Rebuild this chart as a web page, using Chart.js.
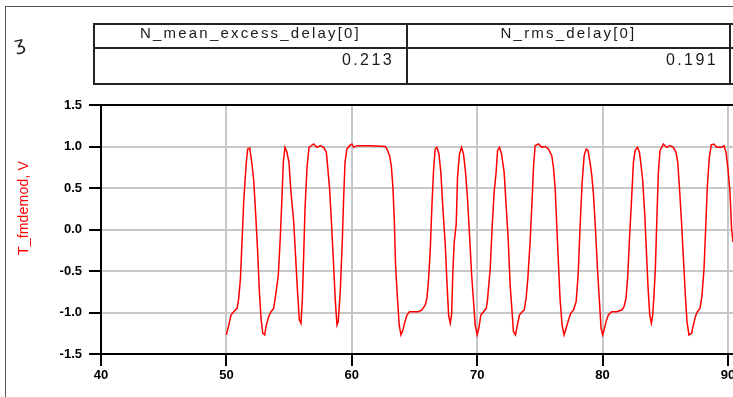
<!DOCTYPE html>
<html>
<head>
<meta charset="utf-8">
<script src="https://cdn.jsdelivr.net/npm/chart.js@4.4.0/dist/chart.umd.min.js"></script>
<style>
html,body{margin:0;padding:0;background:#fff;overflow:hidden}
#wrap{position:relative;width:733px;height:397px;overflow:hidden}
#c{position:absolute;left:0;top:0}
.frame{position:absolute;left:5px;top:6px;width:800px;height:500px;border-left:1px solid #555;border-top:1px solid #555}
.sym{position:absolute;left:14px;top:32px;font:19px "DejaVu Sans";color:#222;transform:rotate(-12deg)}
.tbl{position:absolute;left:93px;top:23px;width:640px;height:62px;box-sizing:border-box;border:2px solid #222;border-right:none}
.hline{position:absolute;left:93px;top:47px;width:640px;height:2px;background:#222}
.vline{position:absolute;top:23px;width:2px;height:62px;background:#222}
.hdr{position:absolute;top:24px;height:17px;line-height:17px;font:15px "Liberation Sans";letter-spacing:2.2px;color:#1a1a1a;text-align:center;white-space:nowrap}
.val{position:absolute;top:51px;height:18px;line-height:18px;font:16px "Liberation Sans";letter-spacing:2.4px;color:#1a1a1a;text-align:right;white-space:nowrap}
.ytitle{position:absolute;left:23px;top:208px;transform:translate(-50%,-50%) rotate(-90deg);font:14px "Liberation Sans";letter-spacing:0.2px;color:#ff0000;white-space:nowrap}
</style>
</head>
<body>
<div id="wrap">
  <canvas id="c" width="733" height="397"></canvas>
  <div class="frame"></div>
  <div class="sym">ʒ</div>
  <div class="tbl"></div>
  <div class="hline"></div>
  <div class="vline" style="left:406px"></div>
  <div class="vline" style="left:729px"></div>
  <div class="hdr" id="h1" style="left:95px;width:311px"></div>
  <div class="hdr" id="h2" style="left:408px;width:321px"></div>
  <div class="val" id="v1" style="left:95px;width:299px"></div>
  <div class="val" id="v2" style="left:408px;width:310px"></div>
  <div class="ytitle" id="yt"></div>
</div>
<script>
// ---- data ----
const tableHeaders = ["N_mean_excess_delay[0]", "N_rms_delay[0]"];
const tableValues = ["0.213", "0.191"];
const yAxisTitle = "T_fmdemod, V";
const xTickValues = [40, 50, 60, 70, 80, 90];
const yTickValues = [-1.5, -1.0, -0.5, 0.0, 0.5, 1.0, 1.5];

const timeX = [
50.00,50.19,50.37,50.58,50.85,50.98,51.12,51.25,51.38,51.49,51.59,51.70,51.86,52.02,52.18,52.34,52.50,52.63,52.76,52.90,
53.05,53.19,53.37,53.56,53.77,53.93,54.14,54.30,54.44,54.54,54.67,54.83,54.99,55.15,55.37,55.52,55.68,55.82,55.95,56.06,
56.16,56.27,56.43,56.59,56.96,57.22,57.49,57.76,57.97,58.07,58.23,58.39,58.55,58.69,58.82,58.92,59.08,59.24,59.35,59.46,
59.61,59.83,60.01,60.15,60.41,61.50,62.67,62.80,63.01,63.15,63.28,63.39,63.49,63.65,63.78,63.92,64.08,64.24,64.40,64.61,
64.93,65.33,65.59,65.86,65.99,66.12,66.25,66.39,66.52,66.65,66.79,66.95,67.10,67.26,67.45,67.58,67.72,67.85,67.96,68.06,
68.17,68.33,68.43,68.59,68.75,68.91,69.07,69.23,69.39,69.55,69.71,69.84,70.00,70.13,70.29,70.50,70.72,70.82,71.04,71.20,
71.35,71.51,71.62,71.78,71.94,72.15,72.31,72.47,72.63,72.79,72.89,73.05,73.21,73.37,73.59,73.75,73.90,74.04,74.22,74.36,
74.49,74.62,74.89,75.15,75.42,75.68,75.95,76.08,76.22,76.35,76.48,76.61,76.77,76.93,77.09,77.28,77.46,77.68,77.89,78.05,
78.21,78.37,78.53,78.69,78.84,79.00,79.14,79.27,79.43,79.59,79.75,79.88,80.01,80.15,80.28,80.46,80.73,81.13,81.53,81.71,
81.87,82.01,82.14,82.30,82.46,82.59,82.78,82.94,83.04,83.20,83.36,83.49,83.63,83.76,83.89,84.00,84.10,84.21,84.32,84.45,
84.58,84.85,85.11,85.38,85.64,85.86,85.99,86.12,86.28,86.44,86.60,86.73,86.89,87.10,87.24,87.40,87.56,87.77,87.93,88.09,
88.22,88.35,88.51,88.67,88.88,89.10,89.50,89.68,89.84,90.00,90.16,90.29,90.40
];
const fmdemodV = [
-1.27,-1.15,-1.03,-0.99,-0.95,-0.83,-0.59,-0.13,0.33,0.59,0.81,0.97,0.98,0.81,0.59,0.17,-0.29,-0.75,-1.07,-1.25,
-1.27,-1.15,-1.05,-0.99,-0.95,-0.79,-0.55,-0.09,0.41,0.81,0.99,0.93,0.81,0.45,0.09,-0.33,-0.77,-1.09,-1.13,-0.83,
-0.33,0.25,0.75,0.99,1.03,0.99,1.01,0.99,0.93,0.77,0.49,0.05,-0.43,-0.87,-1.15,-1.11,-0.75,-0.15,0.37,0.81,
0.97,1.01,1.03,0.99,1.01,1.01,1.00,0.97,0.89,0.77,0.51,0.11,-0.43,-0.85,-1.15,-1.27,-1.21,-1.11,-1.03,-0.99,
-0.99,-0.99,-0.97,-0.91,-0.83,-0.61,-0.27,0.29,0.71,0.97,0.99,0.91,0.69,0.27,-0.17,-0.61,-1.03,-1.13,-1.03,-0.51,
-0.15,0.07,0.63,0.91,0.99,0.91,0.69,0.37,-0.07,-0.53,-0.87,-1.15,-1.27,-1.19,-1.03,-0.99,-0.95,-0.85,-0.47,0.05,
0.45,0.69,0.95,0.99,0.91,0.69,0.29,-0.11,-0.67,-1.01,-1.23,-1.27,-1.15,-1.03,-0.99,-0.97,-0.83,-0.59,-0.15,0.29,
0.75,1.01,1.03,0.99,1.00,0.97,0.89,0.75,0.49,0.03,-0.41,-0.84,-1.15,-1.27,-1.19,-1.09,-1.01,-0.97,-0.87,-0.55,
0.05,0.57,0.89,0.97,0.95,0.81,0.65,0.43,0.01,-0.47,-0.87,-1.19,-1.27,-1.19,-1.11,-1.03,-0.99,-0.99,-0.97,-0.93,
-0.83,-0.55,-0.13,0.33,0.81,0.95,0.99,0.93,0.81,0.59,0.19,-0.25,-0.71,-1.03,-1.13,-1.03,-0.79,-0.47,0.09,0.69,
0.95,1.03,0.99,1.01,0.99,0.93,0.81,0.53,0.13,-0.33,-0.79,-1.11,-1.27,-1.25,-1.15,-1.05,-0.99,-0.95,-0.79,-0.47,
0.01,0.51,0.87,1.02,1.03,0.99,0.99,1.01,0.93,0.73,0.45,0.00,-0.15
];

// ---- text ----
document.getElementById('h1').textContent = tableHeaders[0];
document.getElementById('h2').textContent = tableHeaders[1];
document.getElementById('v1').textContent = tableValues[0];
document.getElementById('v2').textContent = tableValues[1];
document.getElementById('yt').textContent = yAxisTitle;

// ---- chart ----
const points = timeX.map((t, i) => ({ x: t, y: fmdemodV[i] }));
const tickFont = { family: 'Liberation Sans', size: 13, weight: 'bold' };

new Chart(document.getElementById('c'), {
  type: 'line',
  data: { datasets: [{ data: points, borderColor: '#ff0000', borderWidth: 1.5, pointRadius: 0, tension: 0, fill: false }] },
  options: {
    responsive: false, animation: false, devicePixelRatio: 1,
    layout: { padding: { top: 105, left: 0, right: 0, bottom: 0 } },
    plugins: { legend: { display: false }, tooltip: { enabled: false } },
    scales: {
      x: {
        type: 'linear', min: 40, max: 90.4,
        afterBuildTicks: s => { s.ticks = xTickValues.map(v => ({ value: v })); },
        afterFit: s => { s.height = 43; s.paddingLeft = 0; s.paddingRight = 0; },
        ticks: { font: tickFont, color: '#000', padding: 2, maxRotation: 0, autoSkip: false },
        grid: { color: '#c8c8c8', lineWidth: 2, tickColor: '#000', tickWidth: 2, tickLength: 12 },
        border: { color: '#000', width: 2 }
      },
      y: {
        type: 'linear', min: -1.5, max: 1.5,
        afterBuildTicks: s => { s.ticks = yTickValues.map(v => ({ value: v })); },
        afterFit: s => { s.width = 101; s.paddingTop = 0; s.paddingBottom = 0; },
        ticks: { font: tickFont, color: '#000', padding: 7, callback: v => Number(v).toFixed(1) },
        grid: {
          color: c => (c.tick && c.tick.value === 1.5) ? '#000' : '#c8c8c8',
          lineWidth: 2, tickColor: '#000', tickWidth: 2, tickLength: 12
        },
        border: { color: '#000', width: 2 }
      }
    }
  }
});
</script>
</body>
</html>
